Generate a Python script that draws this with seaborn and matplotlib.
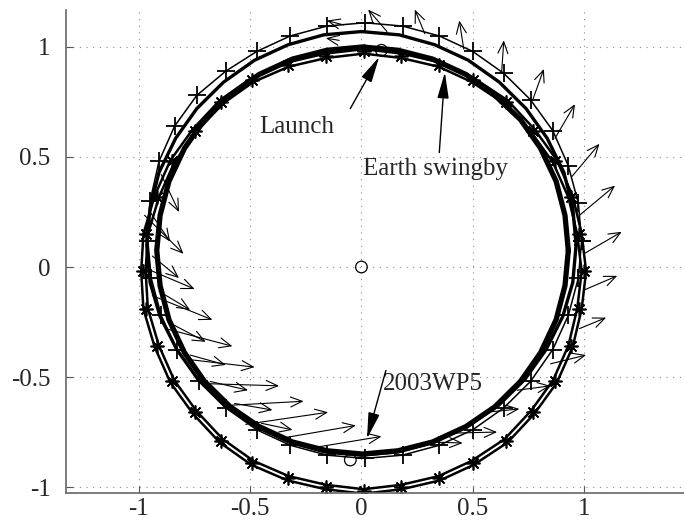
import matplotlib
matplotlib.use("Agg")
import matplotlib.pyplot as plt
import seaborn as sns

# Earth orbit ("*" markers), read every ~10 deg
earth_x = [1.00, 0.98, 0.94, 0.87, 0.77, 0.65, 0.50, 0.35, 0.18, 0.01,
           -0.16, -0.33, -0.49, -0.63, -0.75, -0.85, -0.92, -0.97, -0.98,
           -0.97, -0.92, -0.85, -0.75, -0.63, -0.49, -0.33, -0.16, 0.01,
           0.18, 0.35, 0.50, 0.65, 0.77, 0.87, 0.94, 0.98]
earth_y = [-0.02, 0.15, 0.32, 0.48, 0.62, 0.75, 0.85, 0.92, 0.96, 0.98,
           0.96, 0.92, 0.85, 0.75, 0.62, 0.48, 0.32, 0.15, -0.02,
           -0.19, -0.36, -0.52, -0.66, -0.79, -0.89, -0.96, -1.00, -1.02,
           -1.00, -0.96, -0.89, -0.79, -0.66, -0.52, -0.36, -0.19]

# spacecraft transfer orbit ("+" markers)
sc_x = [0.99, 0.975, 0.93, 0.86, 0.76, 0.64, 0.50, 0.35, 0.185, 0.015,
        -0.155, -0.32, -0.47, -0.61, -0.74, -0.84, -0.91, -0.95, -0.96,
        -0.945, -0.90, -0.83, -0.73, -0.61, -0.47, -0.32, -0.155, 0.015,
        0.185, 0.35, 0.50, 0.64, 0.76, 0.86, 0.93, 0.975]
sc_y = [0.12, 0.29, 0.46, 0.62, 0.76, 0.88, 0.98, 1.05, 1.095, 1.11,
        1.095, 1.05, 0.98, 0.89, 0.78, 0.64, 0.48, 0.30, 0.12,
        -0.05, -0.22, -0.375, -0.52, -0.64, -0.74, -0.81, -0.855, -0.87,
        -0.855, -0.81, -0.74, -0.64, -0.52, -0.375, -0.22, -0.05]

# post-swingby orbit (thick)
post_x = [0.965, 0.95, 0.91, 0.835, 0.74, 0.62, 0.48, 0.33, 0.17, 0.0,
          -0.17, -0.33, -0.48, -0.62, -0.74, -0.835, -0.91, -0.95, -0.965,
          -0.95, -0.905, -0.83, -0.735, -0.615, -0.475, -0.325, -0.165, 0.0,
          0.165, 0.325, 0.475, 0.615, 0.735, 0.83, 0.905, 0.95]
post_y = [0.10, 0.27, 0.43, 0.585, 0.72, 0.84, 0.94, 1.01, 1.055, 1.07,
          1.055, 1.01, 0.94, 0.84, 0.72, 0.585, 0.43, 0.27, 0.10,
          -0.07, -0.225, -0.375, -0.51, -0.63, -0.725, -0.795, -0.84, -0.855,
          -0.84, -0.795, -0.725, -0.63, -0.51, -0.375, -0.225, -0.07]

# asteroid 2003WP5 orbit (thick)
ast_x = [0.93, 0.915, 0.875, 0.805, 0.715, 0.60, 0.47, 0.32, 0.165, 0.005,
         -0.155, -0.31, -0.46, -0.59, -0.705, -0.795, -0.865, -0.905, -0.92,
         -0.905, -0.865, -0.795, -0.705, -0.59, -0.46, -0.31, -0.155, 0.005,
         0.165, 0.32, 0.47, 0.60, 0.715, 0.805, 0.875, 0.915]
ast_y = [0.075, 0.235, 0.39, 0.54, 0.67, 0.78, 0.875, 0.945, 0.985, 1.0,
         0.985, 0.945, 0.875, 0.78, 0.67, 0.54, 0.39, 0.235, 0.075,
         -0.085, -0.24, -0.39, -0.52, -0.635, -0.725, -0.795, -0.835, -0.85,
         -0.835, -0.795, -0.725, -0.635, -0.52, -0.39, -0.24, -0.085]

# thrust vectors: base point and components
quiv_x = [-0.90, -0.975, -0.96, -0.94, -0.88, -0.78, -0.70, -0.62, -0.52, -0.37, -0.21,
          -0.95, -0.94, -0.91, -0.85, -0.77, -0.68, -0.57, -0.45,
          -0.08, -0.10,
          0.115, 0.285, 0.46, 0.63, 0.77, 0.87, 0.945, 0.98, 1.0, 1.0, 0.98,
          0.85, 0.70, 0.56, 0.40, 0.31]
quiv_y = [0.42, 0.235, -0.01, -0.13, -0.28, -0.42, -0.53, -0.63, -0.715, -0.78, -0.82,
          0.25, 0.05, -0.11, -0.26, -0.40, -0.52, -0.62, -0.71,
          1.10, 1.03,
          1.07, 1.06, 0.99, 0.88, 0.76, 0.585, 0.41, 0.235, 0.06, -0.105, -0.28,
          -0.44, -0.56, -0.66, -0.755, -0.795]
quiv_u = [0.08, 0.175, 0.21, 0.27, 0.30, 0.30, 0.33, 0.36, 0.37, 0.345, 0.30,
          0.09, 0.12, 0.14, 0.15, 0.16, 0.17, 0.17, 0.14,
          -0.075, -0.06,
          -0.085, -0.045, -0.02, 0.01, 0.05, 0.09, 0.125, 0.16, 0.17, 0.15, 0.12,
          0.16, 0.15, 0.15, 0.21, 0.145]
quiv_v = [-0.17, -0.175, -0.09, -0.11, -0.08, -0.035, -0.01, 0.02, 0.055, 0.06, 0.05,
          -0.135, -0.10, -0.085, -0.08, -0.045, -0.04, -0.03, -0.03,
          0.02, 0.01,
          0.10, 0.11, 0.13, 0.15, 0.14, 0.155, 0.15, 0.135, 0.10, 0.065, 0.05,
          0.04, 0.02, 0.015, 0.005, -0.005]

# event points (open circles)
event_x = [0.0, 0.09, -0.05]
event_y = [0.0, 0.985, -0.877]

# labels: text position, arrow tail, arrow tip
label_text = ["Launch", "Earth swingby", "2003WP5"]
label_x = [-0.29, 0.335, 0.32]
label_y = [0.636, 0.445, -0.53]
tail_x = [-0.05, 0.35, 0.11]
tail_y = [0.72, 0.52, -0.47]
tip_x = [0.08, 0.375, 0.025]
tip_y = [0.955, 0.885, -0.78]


def closed(v):
    return list(v) + [v[0]]


sns.set_style("white")
plt.rcParams["font.family"] = ["Liberation Serif", "DejaVu Serif"]
plt.rcParams["axes.unicode_minus"] = False

fig = plt.figure(figsize=(6.84, 5.28), dpi=100)
ax = fig.add_axes([66 / 684, 35 / 528, 618 / 684, 483 / 528])

# Earth: double line with asterisks
sns.lineplot(x=closed(earth_x), y=closed(earth_y), sort=False, estimator=None,
             color="black", lw=5.0, ax=ax)
sns.lineplot(x=closed(earth_x), y=closed(earth_y), sort=False, estimator=None,
             color="white", lw=1.4, ax=ax)
sns.lineplot(x=earth_x, y=earth_y, sort=False, estimator=None, color="black",
             linestyle="none", marker=(8, 2, 0), markersize=10,
             markeredgecolor="black", markeredgewidth=1.2, ax=ax)

# asteroid and post-swingby orbits
sns.lineplot(x=closed(ast_x), y=closed(ast_y), sort=False, estimator=None,
             color="black", lw=3.8, ax=ax)
sns.lineplot(x=closed(post_x), y=closed(post_y), sort=False, estimator=None,
             color="black", lw=2.4, ax=ax)

# transfer orbit with plus markers
sns.lineplot(x=closed(sc_x), y=closed(sc_y), sort=False, estimator=None,
             color="black", lw=1.1, marker="+", markersize=13,
             markeredgecolor="black", markeredgewidth=1.3, ax=ax)

# thrust arrows
for x0, y0, u, v in zip(quiv_x, quiv_y, quiv_u, quiv_v):
    ax.annotate("", xy=(x0 + u, y0 + v), xytext=(x0, y0),
                arrowprops=dict(arrowstyle="->,head_length=0.7,head_width=0.3",
                                color="black", lw=0.8, shrinkA=0, shrinkB=0,
                                mutation_scale=12))

sns.scatterplot(x=event_x, y=event_y, marker="o", s=70, facecolor="none",
                edgecolor="black", linewidth=0.9, ax=ax, zorder=5)

for t, lx, ly, tx0, ty0, tx1, ty1 in zip(label_text, label_x, label_y,
                                         tail_x, tail_y, tip_x, tip_y):
    ax.text(lx, ly, t, ha="center", va="center", fontsize=18)
    ax.annotate("", xy=(tx1, ty1), xytext=(tx0, ty0),
                arrowprops=dict(arrowstyle="-|>,head_length=1.6,head_width=0.35",
                                color="black", lw=1.0, shrinkA=0, shrinkB=0,
                                mutation_scale=10))

ax.set_xlim(-1.328, 1.45)
ax.set_ylim(-1.027, 1.168)
ax.set_xticks([-1, -0.5, 0, 0.5, 1])
ax.set_yticks([-1, -0.5, 0, 0.5, 1])
ax.set_xticklabels(["-1", "-0.5", "0", "0.5", "1"])
ax.set_yticklabels(["-1", "-0.5", "0", "0.5", "1"])
ax.tick_params(direction="in", length=5, labelsize=18, color="#555555",
               left=True, bottom=True)
ax.tick_params(axis="y", pad=11)
ax.grid(True, linestyle=(0, (1, 5)), color="#888888", lw=0.8)
for side in ["top", "right"]:
    ax.spines[side].set_visible(False)
for side in ["left", "bottom"]:
    ax.spines[side].set_color("#666666")
    ax.spines[side].set_linewidth(1.2)

fig.savefig("out.png", dpi=100)
